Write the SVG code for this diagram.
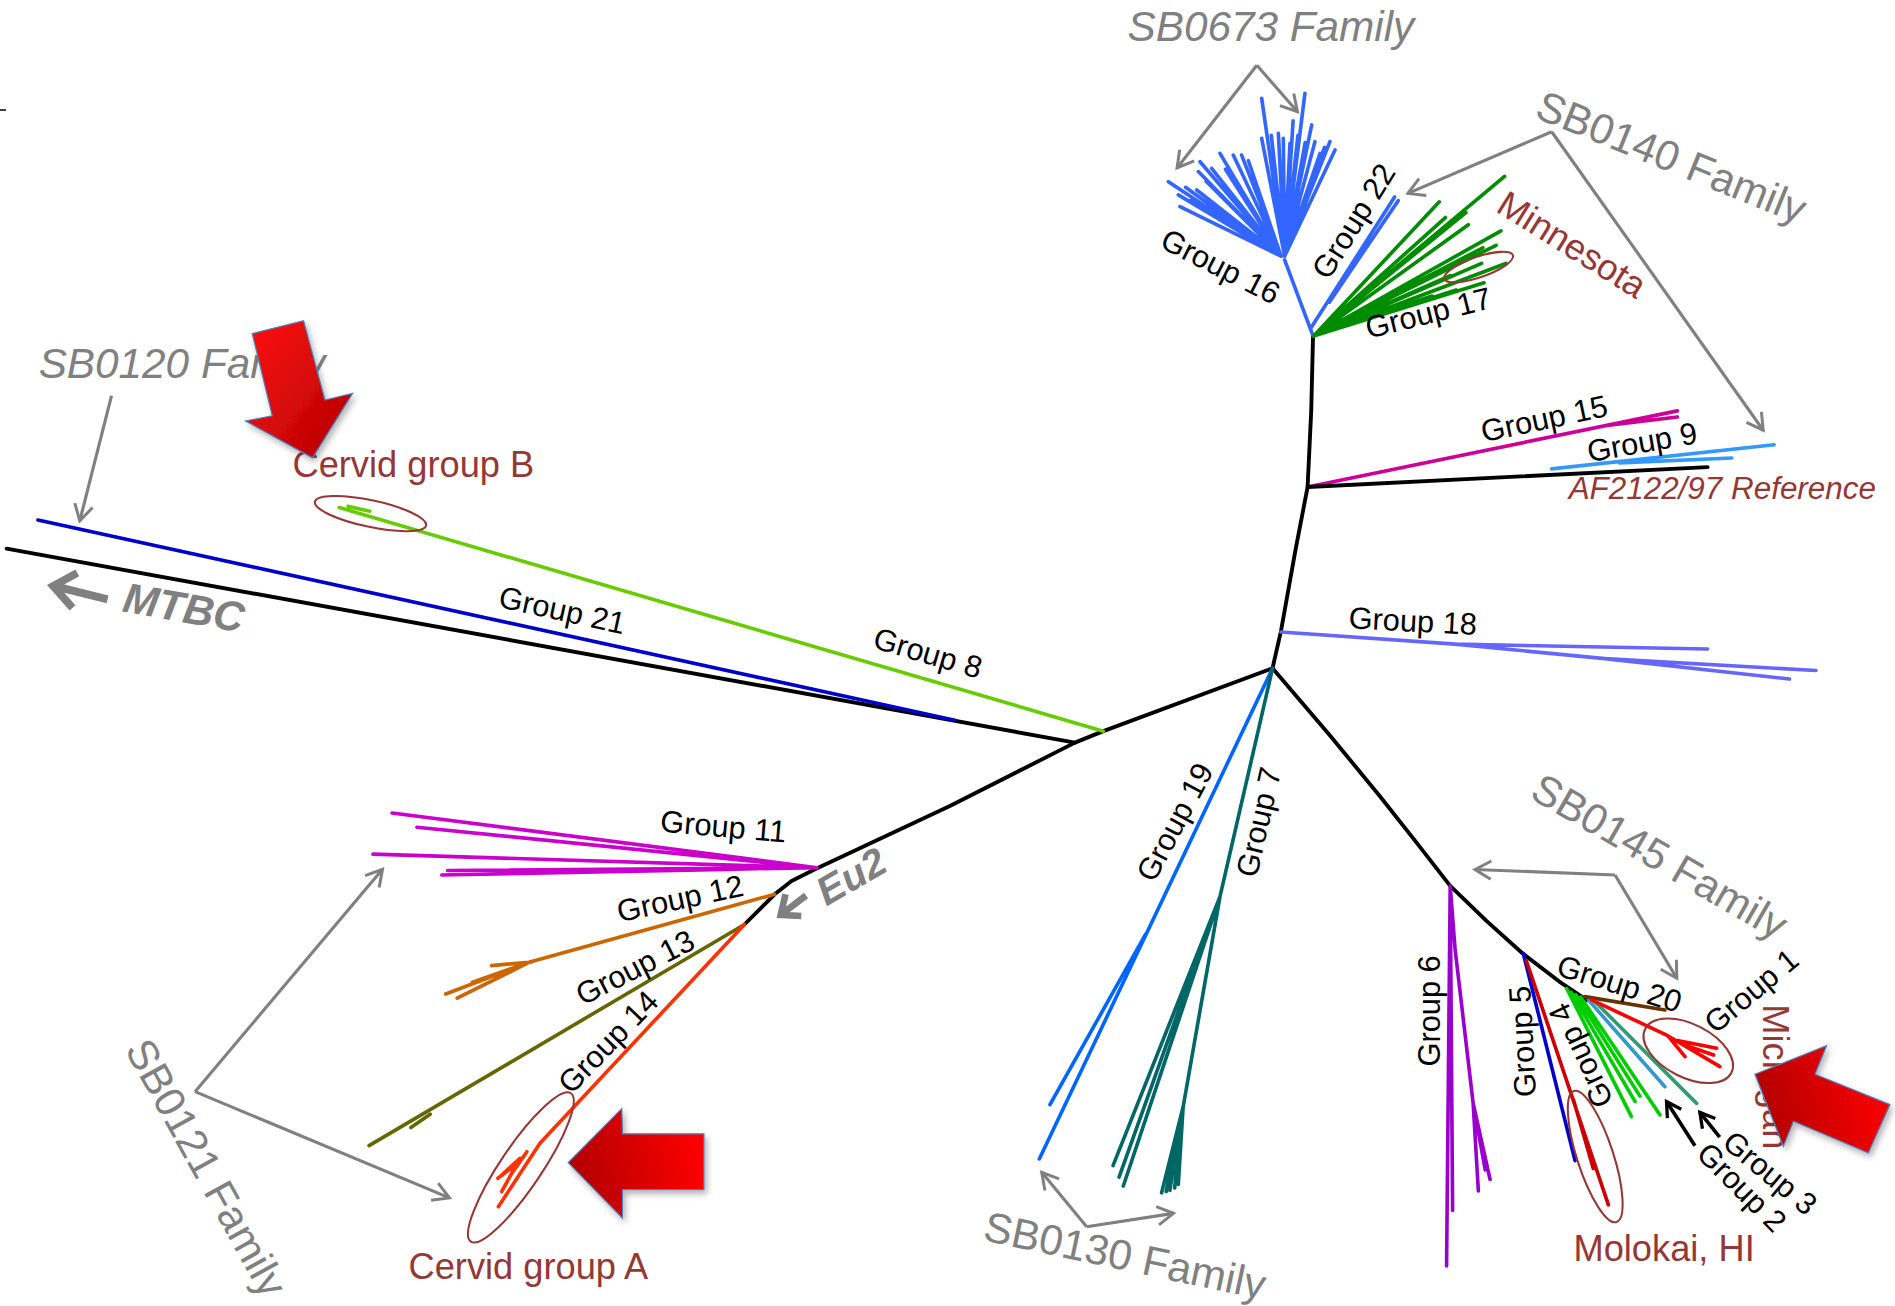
<svg xmlns="http://www.w3.org/2000/svg" width="1895" height="1306" viewBox="0 0 1895 1306">
<defs>
<style>
.t{font-family:"Liberation Sans",Arial,sans-serif}
.grp{font-size:25.5px;fill:#000}
.fam{font-size:35px;fill:#808080}
.loc{font-size:30px;fill:#953735}
.br{fill:none;stroke-width:3;stroke-linecap:round;stroke-linejoin:round}
.bb{fill:none;stroke:#000;stroke-width:3.2;stroke-linecap:round;stroke-linejoin:round}
.arr{fill:none;stroke:#808080;stroke-width:2.6}
.ell{fill:none;stroke:#953735;stroke-width:1.7}
.big{stroke:#4F81BD;stroke-width:1;filter:url(#sh)}
</style>
<marker id="ah" viewBox="0 0 20 20" refX="17" refY="10" markerWidth="19" markerHeight="19" orient="auto" markerUnits="userSpaceOnUse"><path d="M3,2 L17,10 L3,18" fill="none" stroke="#808080" stroke-width="2.6"/></marker>
<marker id="ahk" viewBox="0 0 20 20" refX="17" refY="10" markerWidth="17" markerHeight="17" orient="auto" markerUnits="userSpaceOnUse"><path d="M3,2 L17,10 L3,18" fill="none" stroke="#000" stroke-width="3.2"/></marker>
<linearGradient id="gB" x1="0" y1="0" x2="1" y2="1"><stop offset="0" stop-color="#FF1010"/><stop offset="1" stop-color="#B00000"/></linearGradient>
<linearGradient id="gL" x1="0" y1="0.6" x2="1" y2="0.4"><stop offset="0" stop-color="#B00000"/><stop offset="1" stop-color="#FF0505"/></linearGradient>
<filter id="sh" x="-20%" y="-20%" width="140%" height="140%"><feDropShadow dx="2" dy="3" stdDeviation="2.5" flood-color="#000" flood-opacity="0.3"/></filter>
</defs>
<rect width="1895" height="1306" fill="#fff"/>
<line x1="0" y1="110" x2="6" y2="110" stroke="#000" stroke-width="1.5"/>
<g transform="scale(1.2085)" class="t">
<g id="backbone">
<path class="bb" d="M1053,553 L1060,522 L1072,455 L1082,403 L1085,340 L1086.5,278"/>
<path class="bb" d="M1053,553 L913,605 L889.5,614.5 L786,667 L674.4,719.3 L655,729 L641,740 L616,765"/>
<path class="bb" d="M5.5,454 L889.5,614.5"/>
<path class="bb" d="M1053,553 L1100,608 L1142,659 L1172,697 L1200,733 L1230,762 L1260,789 L1290,812 L1313,827.5"/>
</g>
<g id="group-16">
<path class="br" stroke="#3366FF" d="M1086.5,278 L1063,215 M1060,212 L966.8,150.3 M1060,212 L976.4,171 M1060,212 L975,161.3 M1060,212 L990.2,157.2 M1060,212 L991.6,142 M1060,212 L993,133.8 M1060,212 L1002.6,139.3 M1060,212 L1009.5,126.9 M1060,212 L1020.5,128.3 M1060,212 L1027.4,128.3 M1060,212 L985,166 M1060,212 L998,150 M1060,212 L1014,140 M1060,212 L981,155 M1060,212 L1033,133 M1063,212 L1044,81.4 M1063,212 L1044,114.5 M1063,212 L1057.8,110.3 M1063,212 L1061.9,114.5 M1063,212 L1067.4,118.6 M1063,212 L1079.8,77.2 M1063,212 L1085.4,103.4 M1063,212 L1088.1,117.2 M1063,212 L1100.5,117.2 M1063,212 L1104.7,124.1 M1063,212 L1092.3,126.9 M1063,212 L1074,112 M1063,212 L1052,112 M1063,212 L1070,100 M1063,212 L1080,118 M1063,212 L1096,122"/>
<text class="grp" text-anchor="middle" transform="translate(1006,228.3) rotate(27)">Group 16</text>
</g>
<g id="group-22">
<path class="br" stroke="#3366FF" d="M1085,271 L1154,163 M1100,250 L1157,166"/>
<text class="grp" text-anchor="middle" transform="translate(1127.5,187.6) rotate(-58)">Group 22</text>
</g>
<g id="group-17">
<path class="br" stroke="#008C00" d="M1087,278 L1245,146 M1087,278 L1191,167 M1087,278 L1213,176 M1087,278 L1215,186 M1087,278 L1242,191 M1087,278 L1227,205 M1087,278 L1238,203 M1087,278 L1246,218 M1087,278 L1226,218 M1087,278 L1228,234 M1087,278 L1205,240 M1087,278 L1185,245 M1087,278 L1200,228 M1087,278 L1196,180"/>
<ellipse class="ell" cx="1223.5" cy="221" rx="30" ry="8.5" transform="rotate(-19 1223.5 221)"/>
<text class="grp" text-anchor="middle" transform="translate(1184,267.4) rotate(-14)">Group 17</text>
<text class="loc" text-anchor="middle" transform="translate(1295.3,211.1) rotate(32)">Minnesota</text>
</g>
<g id="group-15">
<path class="br" stroke="#CC0099" d="M1082,403 L1388,340 M1330,352 L1388,345"/>
<text class="grp" text-anchor="middle" transform="translate(1279.6,355) rotate(-12)">Group 15</text>
</g>
<g id="group-9">
<path class="bb" d="M1082,403 L1413,386.5"/>
<path class="br" stroke="#3399FF" d="M1284,388 L1468,368 M1340,383 L1433,379"/>
<text class="grp" text-anchor="middle" transform="translate(1360.3,374.5) rotate(-10)">Group 9</text>
<text x="1298" y="413" font-size="26" font-style="italic" fill="#953735">AF2122/97 Reference</text>
</g>
<g id="group-18">
<path class="br" stroke="#6666FF" d="M1060,523 L1204,533 L1413,537 M1204,533 L1328,545 L1502.7,554.8 M1328,545 L1480.8,561.9"/>
<text class="grp" text-anchor="middle" transform="translate(1168.6,522.6) rotate(3)">Group 18</text>
</g>
<g id="group-21">
<path class="br" stroke="#0000CC" d="M31.4,430.3 L790,596"/>
<text class="grp" text-anchor="middle" transform="translate(463.4,513.5) rotate(12.35)">Group 21</text>
</g>
<g id="mtbc">
<path d="M64,474 L44,485 L60,503 M45,485 L89,496" fill="none" stroke="#808080" stroke-width="6.5" stroke-linejoin="miter"/>
<text text-anchor="middle" font-size="35" font-weight="bold" font-style="italic" fill="#808080" transform="translate(150,514.6) rotate(10)">MTBC</text>
</g>
<g id="group-8">
<path class="br" stroke="#66CC00" d="M913,605 L280.7,420 M288,419 L306,423"/>
<ellipse class="ell" cx="306.6" cy="425" rx="47" ry="11" transform="rotate(12 306.6 425)"/>
<text class="grp" text-anchor="middle" transform="translate(765.4,548.8) rotate(16.3)">Group 8</text>
<text class="loc" x="242" y="395">Cervid group B</text>
</g>
<g id="group-11">
<path class="br" stroke="#CC00CC" d="M676,718 L324.4,672.7 M676,718 L345,684.5 M676,718 L308.6,706.8 M676,718 L365.6,724 M676,718 L370.4,720.3"/>
<text class="grp" text-anchor="middle" transform="translate(597.8,692.6) rotate(5)">Group 11</text>
</g>
<g id="group-12">
<path class="br" stroke="#CC6600" d="M641,740 L438.5,796 L368.8,822.5 M438.5,796 L378.3,826 M440,796 L406.8,799 M430,799 L391,812.8"/>
<text class="grp" text-anchor="middle" transform="translate(564.6,752) rotate(-12)">Group 12</text>
</g>
<g id="group-13">
<path class="br" stroke="#666600" d="M616,765 L305.4,948 M340,933 L356,922"/>
<text class="grp" text-anchor="middle" transform="translate(529.5,808.3) rotate(-27)">Group 13</text>
</g>
<g id="group-14">
<path class="br" stroke="#FF3300" d="M616,765 L446.8,946 L412.4,998.5 M430.3,958.5 L415.1,972.3 M430.3,958.5 L415.1,986 M436,953 L423.4,970.9 M425,965 L412,975"/>
<ellipse class="ell" cx="431" cy="966" rx="17" ry="74" transform="rotate(34 431 966)"/>
<text class="grp" text-anchor="middle" transform="translate(509.5,868.3) rotate(-46)">Group 14</text>
<text class="loc" x="338" y="1058">Cervid group A</text>
</g>
<g id="eu2">
<path d="M663,758 L646,757 L650,740 M646,757 L667,741" fill="none" stroke="#808080" stroke-width="5.5"/>
<text text-anchor="middle" font-size="33" font-weight="bold" font-style="italic" fill="#808080" transform="translate(710,735) rotate(-30)">Eu2</text>
</g>
<g id="group-19">
<path class="br" stroke="#0066FF" d="M1053,553 L860,959 M948,773 L868.8,914"/>
<text class="grp" text-anchor="middle" transform="translate(979.9,684.4) rotate(-62)">Group 19</text>
</g>
<g id="group-7">
<path class="br" stroke="#006666" d="M1053,553 L1009.5,742 L921,964.5 M1009.5,742 L929.5,981.4 M1004,756 L926,974 M1009.5,742 L979,916 L961.2,987 M979,916 L968,985 M979,916 L975,980 M979,916 L972,983 M979,916 L965,986"/>
<text class="grp" text-anchor="middle" transform="translate(1050,682.2) rotate(-77)">Group 7</text>
</g>
<g id="group-6">
<path class="br" stroke="#9900CC" d="M1200,733 L1197,1047.5 M1200,733 L1202,1001.6 M1200,733 L1204,785 L1219,913 L1223.3,985.5 M1219,913 L1233,976 M1219,913 L1229,968"/>
<text class="grp" text-anchor="middle" transform="translate(1191.7,836.5) rotate(-90)">Group 6</text>
</g>
<g id="group-5">
<path class="br" stroke="#0000CC" d="M1260.5,789 L1303.3,960.4"/>
<text class="grp" text-anchor="middle" transform="translate(1268.6,861.4) rotate(-93)">Group 5</text>
</g>
<g id="molokai">
<path class="br" stroke="#CC0000" d="M1263,795 L1330.9,997 M1302,910 L1318.4,967"/>
<ellipse class="ell" cx="1320" cy="957" rx="15" ry="57" transform="rotate(-18 1320 957)"/>
<text class="loc" x="1302" y="1043.5">Molokai, HI</text>
</g>
<g id="group-4">
<path class="br" stroke="#00CC00" d="M1296.4,818 L1350,924 M1300,821 L1353,911.6 M1304,823 L1357,907 M1308,825 L1373.6,922.6"/>
<text class="grp" text-anchor="middle" transform="translate(1316,869.8) rotate(-115)">Group 4</text>
</g>
<g id="group-2">
<path class="br" stroke="#3399CC" d="M1314.3,827.4 L1377.7,899.2"/>
<text class="grp" text-anchor="middle" transform="translate(1435.1,988.7) rotate(45)">Group 2</text>
</g>
<g id="group-3">
<path class="br" stroke="#339977" d="M1317,826 L1403.9,913"/>
<text class="grp" text-anchor="middle" transform="translate(1459.1,977.3) rotate(40)">Group 3</text>
</g>
<g id="group-20">
<path class="br" stroke="#663300" d="M1311.5,824.7 L1377.7,835.7"/>
<text class="grp" text-anchor="middle" transform="translate(1337.5,822.3) rotate(17.3)">Group 20</text>
</g>
<g id="group-1">
<path class="br" stroke="#FF0000" d="M1317,827.4 L1380,857 L1423.2,882.6 M1380,857 L1394.3,874.3 M1388,861 L1420.5,867.4 M1395,865 L1418,873"/>
<ellipse class="ell" cx="1397" cy="869.5" rx="40" ry="22" transform="rotate(27 1397 869.5)"/>
<text class="grp" text-anchor="middle" transform="translate(1454.9,826.7) rotate(-40)">Group 1</text>
<text class="loc" transform="translate(1459,831) rotate(90)">Michigan</text>
</g>
<g id="family-labels">
<text class="fam" x="933" y="34" font-style="italic">SB0673 Family</text>
<text class="fam" text-anchor="middle" transform="translate(1378.6,141.2) rotate(22)">SB0140 Family</text>
<text class="fam" x="32" y="313" font-style="italic">SB0120 Family</text>
<text class="fam" text-anchor="middle" transform="translate(160.3,972.1) rotate(61)">SB0121 Family</text>
<text class="fam" text-anchor="middle" transform="translate(928.3,1050.8) rotate(12)">SB0130 Family</text>
<text class="fam" text-anchor="middle" transform="translate(1367.3,719.1) rotate(30)">SB0145 Family</text>
</g>
<g id="connectors">
<path class="arr" marker-end="url(#ah)" d="M1040,54 L974,139"/>
<path class="arr" marker-end="url(#ah)" d="M1040,54 L1073.6,92.4"/>
<path class="arr" marker-end="url(#ah)" d="M1284,109 L1165,160"/>
<path class="arr" marker-end="url(#ah)" d="M1284,109 L1459,356"/>
<path class="arr" marker-end="url(#ah)" d="M92.3,327.4 L66,431"/>
<path class="arr" marker-end="url(#ah)" d="M161.4,903.3 L316.5,719.3"/>
<path class="arr" marker-end="url(#ah)" d="M161.4,903.3 L371.9,991.2"/>
<path class="arr" marker-end="url(#ah)" d="M899.2,1015.1 L862,970.1"/>
<path class="arr" marker-end="url(#ah)" d="M899.2,1015.1 L971,1004"/>
<path class="arr" marker-end="url(#ah)" d="M1336.4,724 L1220.5,719.5"/>
<path class="arr" marker-end="url(#ah)" d="M1336.4,724 L1387.5,809.5"/>
<path fill="none" stroke="#000" stroke-width="3" marker-end="url(#ahk)" d="M1402.5,948 L1379,911.5"/>
<path fill="none" stroke="#000" stroke-width="3" marker-end="url(#ahk)" d="M1423,941 L1406.6,920.5"/>
</g>
<g id="highlight-arrows">
<polygon class="big" fill="url(#gB)" points="208.7,276 251.2,265.4 268.9,331 291.8,325.5 258.6,378.9 203.2,348.3 225.3,344.1"/>
<polygon class="big" fill="url(#gL)" points="470.1,962 514.5,917.3 515.1,938.2 582.5,938.2 582.5,984.3 515.1,984.3 515.1,1008"/>
<polygon class="big" fill="url(#gL)" points="1452.2,888.9 1511.5,865.2 1501.9,888.9 1563.9,914 1546,954 1484,927.8 1475.7,948.5"/>
</g>
</g>
</svg>
